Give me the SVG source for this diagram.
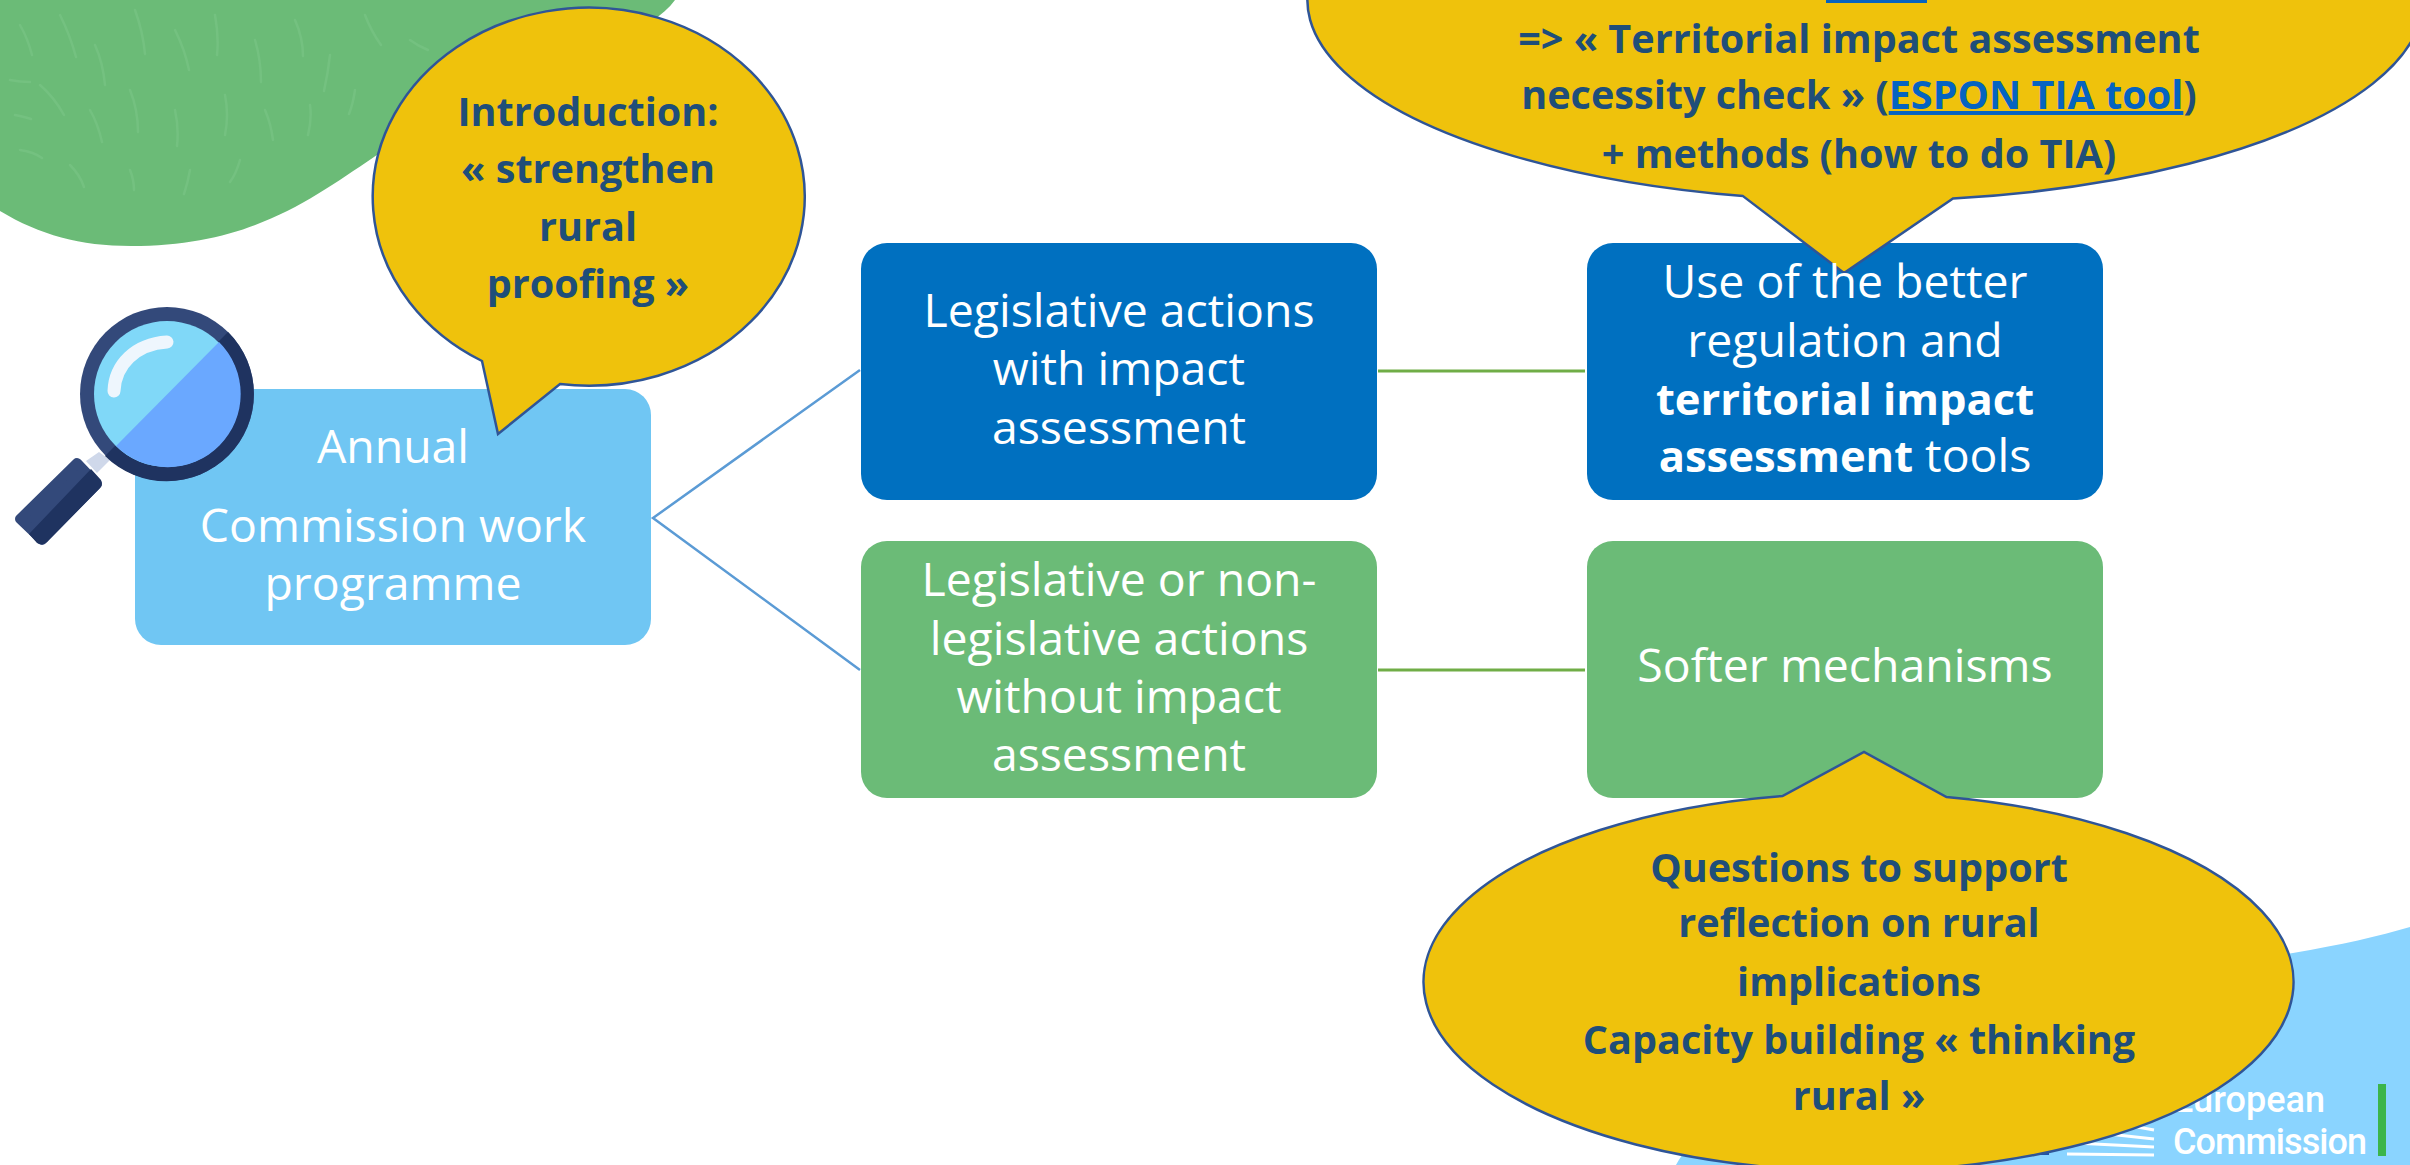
<svg xmlns="http://www.w3.org/2000/svg" width="2410" height="1165" viewBox="0 0 2410 1165">
<style>
.w{font-family:"Open Sans","Noto Sans",sans-serif;font-size:46.4px;fill:#fff;text-anchor:middle}
.wb{font-weight:700;font-size:43.5px}
.b{font-family:"Open Sans","Noto Sans",sans-serif;font-size:39.6px;font-weight:700;fill:#1f4e79;text-anchor:middle}
.bub{fill:#efc20c;stroke:#2f5597;stroke-width:2.5}
.lb{stroke:#5b9bd5;stroke-width:2.5;fill:none}
.lg{stroke:#70ad47;stroke-width:3;fill:none}
.ec{font-family:"Roboto","Open Sans",sans-serif;font-size:36px;font-weight:500;fill:#fff}
</style>
<rect width="2410" height="1165" fill="#fff"/>
<g id="background">
<path d="M675 0C640 50 480 80 374 157C310 200 250 246 131 246C80 246 40 235 0 211V0Z" fill="#6bbb77"/>
<path d="M20 25q8 14 12 30M60 15q10 20 16 42M95 45q8 18 10 40M135 10q8 22 10 44M175 30q10 20 14 40M215 15q4 22 2 40M255 40q6 20 6 42M295 20q8 18 8 36M330 55q-2 18 -6 36M365 15q6 16 16 30M410 40q8 6 18 10M40 85q14 12 24 30M90 110q8 14 12 32M130 90q8 20 8 42M175 110q4 18 2 36M225 95q4 20 0 40M265 110q6 14 8 30M310 105q2 14 -2 30M355 90q-2 14 -6 24M10 80q10 2 20 2M20 150q14 2 22 8M70 165q10 10 14 22M130 170q4 10 4 20M190 170q-2 12 -6 24M240 160q-4 14 -10 22M15 115q10 2 16 4" stroke="#74c180" stroke-width="2.5" stroke-linecap="round" fill="none"/>
<path d="M1676 1165C1720 1080 1960 1010 2293 953C2340 945 2380 936 2410 927V1165Z" fill="#8ad4ff"/>
<rect x="1960" y="1125" width="89" height="30" fill="#1f54a8"/>
<path d="M2067 1154L2154 1155M2075 1143L2154 1147M2090 1132L2154 1139M2110 1122L2154 1130" stroke="#fff" stroke-width="3" fill="none"/>
<text class="ec" x="2173" y="1112" textLength="152">European</text>
<text class="ec" x="2173" y="1154" textLength="194">Commission</text>
<rect x="2378" y="1084" width="8" height="72" fill="#3cb54a"/>
</g>
<g id="connectors">
<path class="lb" d="M860 370L653 518L860 670"/>
<path class="lg" d="M1378 371H1585M1378 670H1585"/>
</g>
<g id="n-annual">
<rect x="135" y="389" width="516" height="256" rx="26" fill="#70c6f3"/>
<text class="w" x="393" y="463">Annual</text>
<text class="w" x="393" y="542">Commission work</text>
<text class="w" x="393" y="600">programme</text>
</g>
<g id="n-legislative">
<rect x="861" y="243" width="516" height="257" rx="26" fill="#0070c0"/>
<text class="w" x="1119" y="327">Legislative actions</text>
<text class="w" x="1119" y="385">with impact</text>
<text class="w" x="1119" y="444">assessment</text>
</g>
<g id="n-nonlegislative">
<rect x="861" y="541" width="516" height="257" rx="26" fill="#6bbb77"/>
<text class="w" x="1119" y="596">Legislative or non-</text>
<text class="w" x="1119" y="655">legislative actions</text>
<text class="w" x="1119" y="712.5">without impact</text>
<text class="w" x="1119" y="770.5">assessment</text>
</g>
<g id="n-tools-box">
<rect x="1587" y="243" width="516" height="257" rx="26" fill="#0070c0"/>
</g>
<g id="n-softer">
<rect x="1587" y="541" width="516" height="257" rx="26" fill="#6bbb77"/>
<text class="w" x="1845" y="682">Softer mechanisms</text>
</g>
<g id="magnifier">
<path d="M86 461L99 452L110 460L97 473Z" fill="#cfd8ea"/>
<path d="M77 463L97 484L42 540L20 519Z" fill="#33497a" stroke="#33497a" stroke-width="10" stroke-linejoin="round"/>
<path d="M91 469L101 480Q103 485 100 488L47 542Q42 546 37 543L29 534Z" fill="#1f3360"/>
<circle cx="167" cy="394" r="87" fill="#33497a"/>
<path d="M228 332A87 87 0 0 1 105 456Z" fill="#1f3360"/>
<circle cx="167" cy="394" r="73" fill="#80d8f8"/>
<path d="M219 342A73 73 0 0 1 116 446Z" fill="#6aa8ff"/>
<path d="M114 391C115 365 135 344 167 342" stroke="#eef6fd" stroke-width="13" stroke-linecap="round" fill="none"/>
</g>
<g id="callout-intro">
<path class="bub" d="M482 361A216 189 0 1 1 560 384L498 434Z"/>
<text class="b" x="588" y="126">Introduction:</text>
<text class="b" x="588" y="183">« strengthen</text>
<text class="b" x="588" y="241">rural</text>
<text class="b" x="588" y="298">proofing »</text>
</g>
<g id="callout-tia">
<path class="bub" d="M1743 196.1A558 201 0 1 1 1953 198.5L1844 273Z"/>
<rect x="1826" y="0" width="101" height="3" fill="#0563c1"/>
<text class="b" x="1859" y="53">=&gt; « Territorial impact assessment</text>
<text class="b" x="1859" y="109">necessity check » (<tspan fill="#0563c1" text-decoration="underline">ESPON TIA tool</tspan>)</text>
<text class="b" x="1859" y="168">+ methods (how to do TIA)</text>
</g>
<g id="n-tools-label">
<text class="w" x="1845" y="298">Use of the better</text>
<text class="w" x="1845" y="357">regulation and</text>
<text class="w wb" x="1845" y="415">territorial impact</text>
<text class="w" x="1845" y="472"><tspan class="wb">assessment</tspan> tools</text>
</g>
<g id="callout-questions">
<path class="bub" d="M1946.5 797A435 189 0 1 1 1782.5 796L1864 752Z"/>
<text class="b" x="1859" y="882">Questions to support</text>
<text class="b" x="1859" y="937">reflection on rural</text>
<text class="b" x="1859" y="996">implications</text>
<text class="b" x="1859" y="1054">Capacity building « thinking</text>
<text class="b" x="1859" y="1110">rural »</text>
</g>
</svg>
